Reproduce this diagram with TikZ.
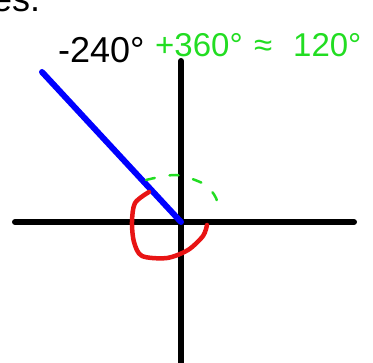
\documentclass[tikz,border=0pt]{standalone}
\usepackage{fontspec}
\setmainfont{Liberation Sans}
\usetikzlibrary{positioning}
\definecolor{handgreen}{HTML}{22DD22}
\definecolor{handred}{HTML}{E81414}
\definecolor{rayblue}{HTML}{0000FF}

\begin{document}
\begin{tikzpicture}[x=1pt,y=-1pt,
  axis/.style={draw=black,line width=6pt,line cap=round},
  ray/.style={draw=rayblue,line width=6pt,line cap=round},
  ink/.style={draw=handred,line width=4.5pt,line cap=round,line join=round},
  dashink/.style={draw=handgreen,line width=2.5pt,dash pattern=on 9pt off 15pt,line cap=round},
  angtext/.style={inner sep=0pt,font=\fontsize{36}{40}\selectfont},
  note/.style={inner sep=0pt,text=handgreen,font=\fontsize{33}{36}\selectfont}
]
\useasboundingbox (0,0) rectangle (373,363);

\coordinate (o) at (181,222);
\coordinate (xl) at (15,222);
\coordinate (xr) at (354,222);
\coordinate (yt) at (181,61);
\coordinate (yb) at (181,370);
\coordinate (tip) at (42,72);

\node[angtext,anchor=base west] (head) at (-8,12) {es.};
\node[angtext,anchor=base west] (ang) at (58,63) {-240°};
\node[note,anchor=base west] (sum) at (155,57) {+360°};
\node[note,anchor=base west] (eq) at (254,57) {≈};
\node[note,anchor=base west] (res) at (293,57) {120°};

\draw[axis] (xl) -- (xr);
\draw[axis] (yt) -- (yb);
\draw[ray] (tip) -- (o);

% hand drawn marks
\draw[dashink] plot[smooth] coordinates {(146,180) (176,175) (204,184) (216,198) (218,213)};
\draw[ink] plot[smooth] coordinates {(149,192) (135,203) (132,222) (134,242) (142,256) (167,258) (188,250) (203,236) (207,225)};
\end{tikzpicture}
\end{document}
